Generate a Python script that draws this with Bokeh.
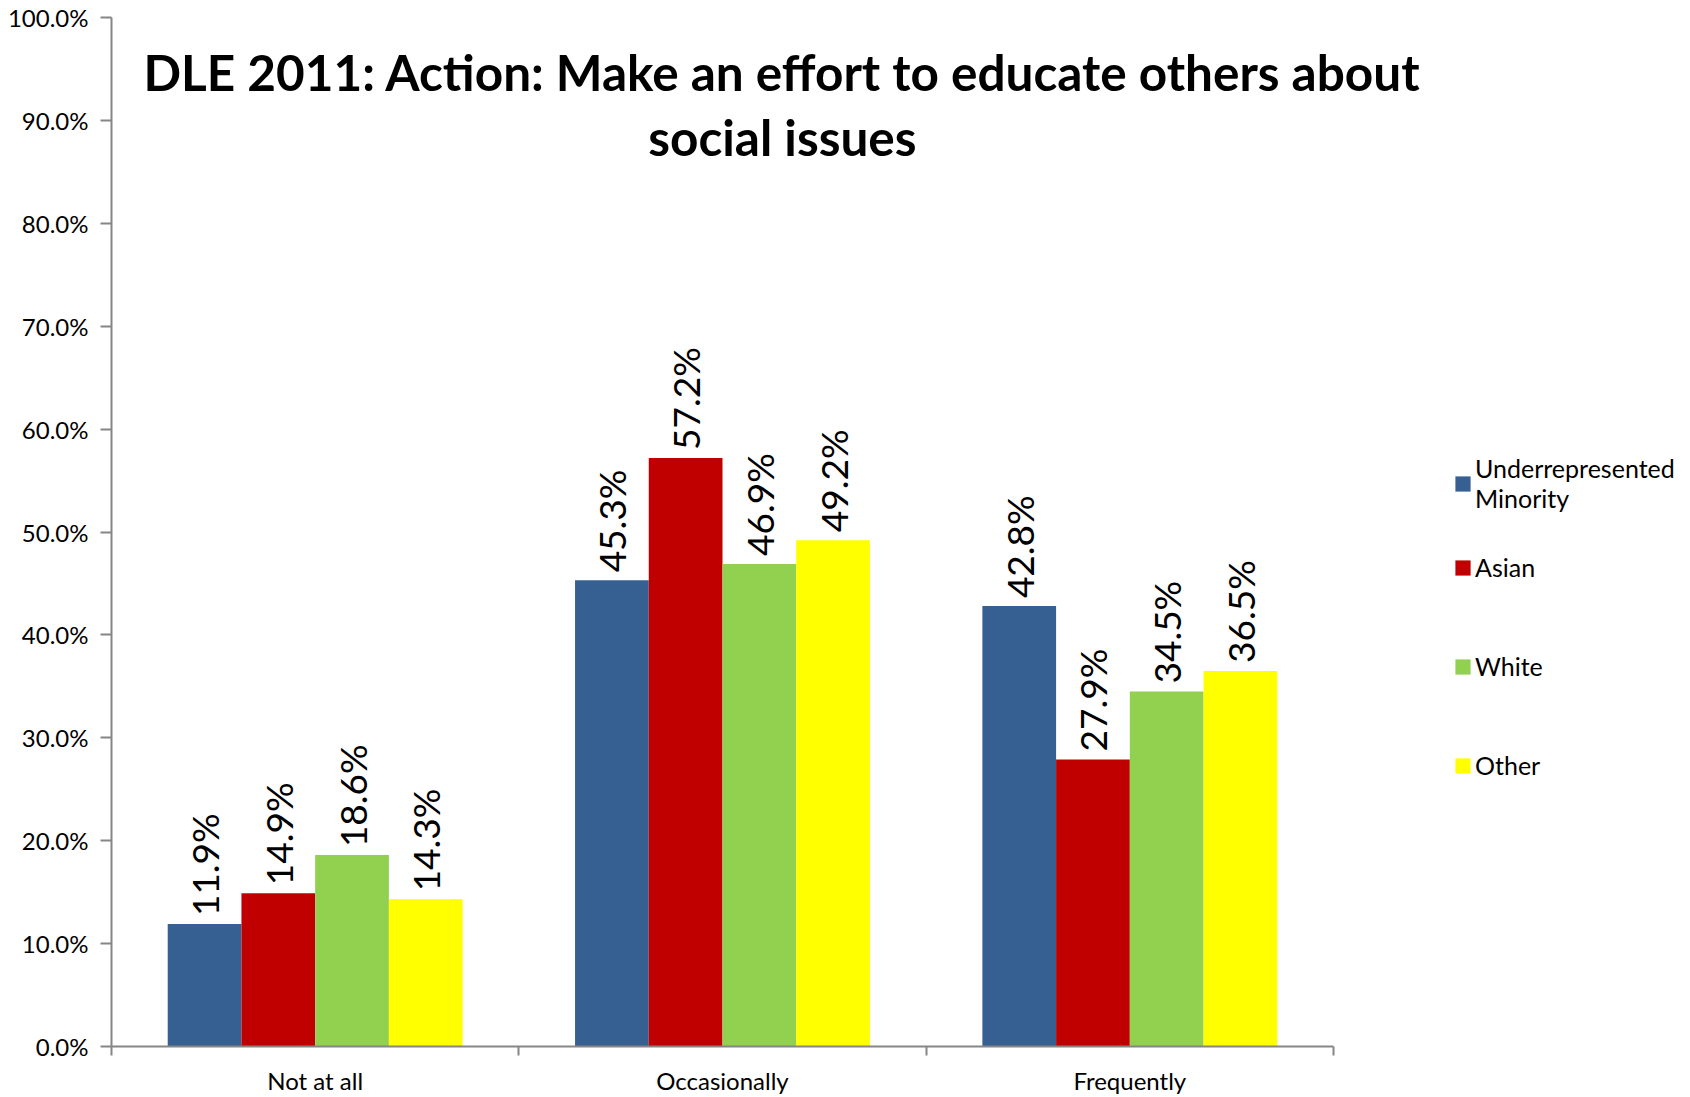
from math import pi
from bokeh.plotting import figure
from bokeh.core.properties import value
from bokeh.models import (Range1d, LinearAxis, FixedTicker, NumeralTickFormatter,
                          ColumnDataSource, LabelSet, Label, Legend, LegendItem)
from bokeh.embed import file_html
from bokeh.resources import INLINE

# ---- data ----
categories = ["Not at all", "Occasionally", "Frequently"]
series_names = ["Underrepresented\nMinority", "Asian", "White", "Other"]
urm = [0.119, 0.453, 0.428]
asian = [0.149, 0.572, 0.279]
white = [0.186, 0.469, 0.345]
other = [0.143, 0.492, 0.365]
colors = ["#376092", "#C00000", "#92D050", "#FFFF00"]
y_ticks = [0.0, 0.1, 0.2, 0.3, 0.4, 0.5, 0.6, 0.7, 0.8, 0.9, 1.0]
title_lines = ["DLE 2011: Action: Make an effort to educate others about", "social issues"]

series = [urm, asian, white, other]

FONT = "Lato"
AXIS_GRAY = "#868686"

p = figure(width=1690, height=1097, output_backend="svg", toolbar_location=None,
           x_range=Range1d(0, 3.8765), y_range=Range1d(0, 1),
           x_axis_location=None, y_axis_location=None,
           min_border_left=111, min_border_right=0, min_border_top=17, min_border_bottom=50)
p.outline_line_color = None
p.xgrid.visible = False
p.ygrid.visible = False
p.background_fill_color = "white"
p.border_fill_color = "white"

# y axis
yax = LinearAxis(ticker=FixedTicker(ticks=y_ticks),
                 formatter=NumeralTickFormatter(format="0.0%"))
yax.axis_line_color = AXIS_GRAY
yax.axis_line_width = 2
yax.major_tick_line_color = AXIS_GRAY
yax.major_tick_line_width = 2
yax.major_tick_out = 11
yax.major_tick_in = 0
yax.minor_tick_line_color = None
yax.major_label_standoff = 12
yax.major_label_text_font = FONT
yax.major_label_text_font_size = "24px"
yax.major_label_text_color = "black"
p.add_layout(yax, "left")

# x axis: labels at category centres, boundary ticks as minor ticks
centers = [i + 0.5 for i in range(len(categories))]
bounds_ticks = [float(i) for i in range(len(categories) + 1)]
xax = LinearAxis(ticker=FixedTicker(ticks=centers, minor_ticks=bounds_ticks),
                 major_label_overrides={c: name for c, name in zip(centers, categories)},
                 bounds=(0, len(categories)))
xax.axis_line_color = AXIS_GRAY
xax.axis_line_width = 2
xax.major_tick_line_color = None
xax.major_tick_out = 0
xax.major_tick_in = 0
xax.minor_tick_line_color = AXIS_GRAY
xax.minor_tick_line_width = 2
xax.minor_tick_out = 9
xax.minor_tick_in = 0
xax.major_label_standoff = 10
xax.major_label_text_font = FONT
xax.major_label_text_font_size = "24px"
xax.major_label_text_line_height = 1.0
xax.major_label_text_color = "black"
p.add_layout(xax, "below")

bar_w = 0.181
renderers = []
for i, (vals, col) in enumerate(zip(series, colors)):
    xs = [c + (i - 1.5) * bar_w for c in centers]
    src = ColumnDataSource(dict(x=xs, top=vals, lab=[f"{v*100:.1f}%" for v in vals]))
    r = p.vbar(x="x", top="top", width=bar_w, bottom=0, source=src,
               fill_color=col, line_color=None)
    renderers.append(r)
    ls = LabelSet(x="x", y="top", text="lab", source=src, angle=pi / 2,
                  text_align="left", text_baseline="middle", y_offset=8,
                  text_font=value(FONT), text_font_size=value("37px"),
                  text_color="black")
    p.add_layout(ls)

for line, yy in zip(title_lines, [0.9468, 0.8837]):
    p.add_layout(Label(x=1.647, y=yy, text=line, text_align="center", text_baseline="middle",
                       text_font=FONT, text_font_style="bold", text_font_size="49.5px",
                       text_color="black"))

legend_style = dict(orientation="vertical", glyph_width=19, glyph_height=19, label_standoff=3,
                    label_text_font=FONT, label_text_font_size="25px", label_text_color="black",
                    label_text_line_height=1.25,
                    padding=0, margin=0, border_line_alpha=0, background_fill_alpha=0)
legend1 = Legend(items=[LegendItem(label=series_names[0], renderers=[renderers[0]])],
                 location=(1342, 533), **legend_style)
legend2 = Legend(items=[LegendItem(label=n, renderers=[r]) for n, r in zip(series_names[1:], renderers[1:])],
                 location=(1342, 266), spacing=69, **legend_style)
p.add_layout(legend1)
p.add_layout(legend2)

open("out.html", "w").write(file_html(p, INLINE))
